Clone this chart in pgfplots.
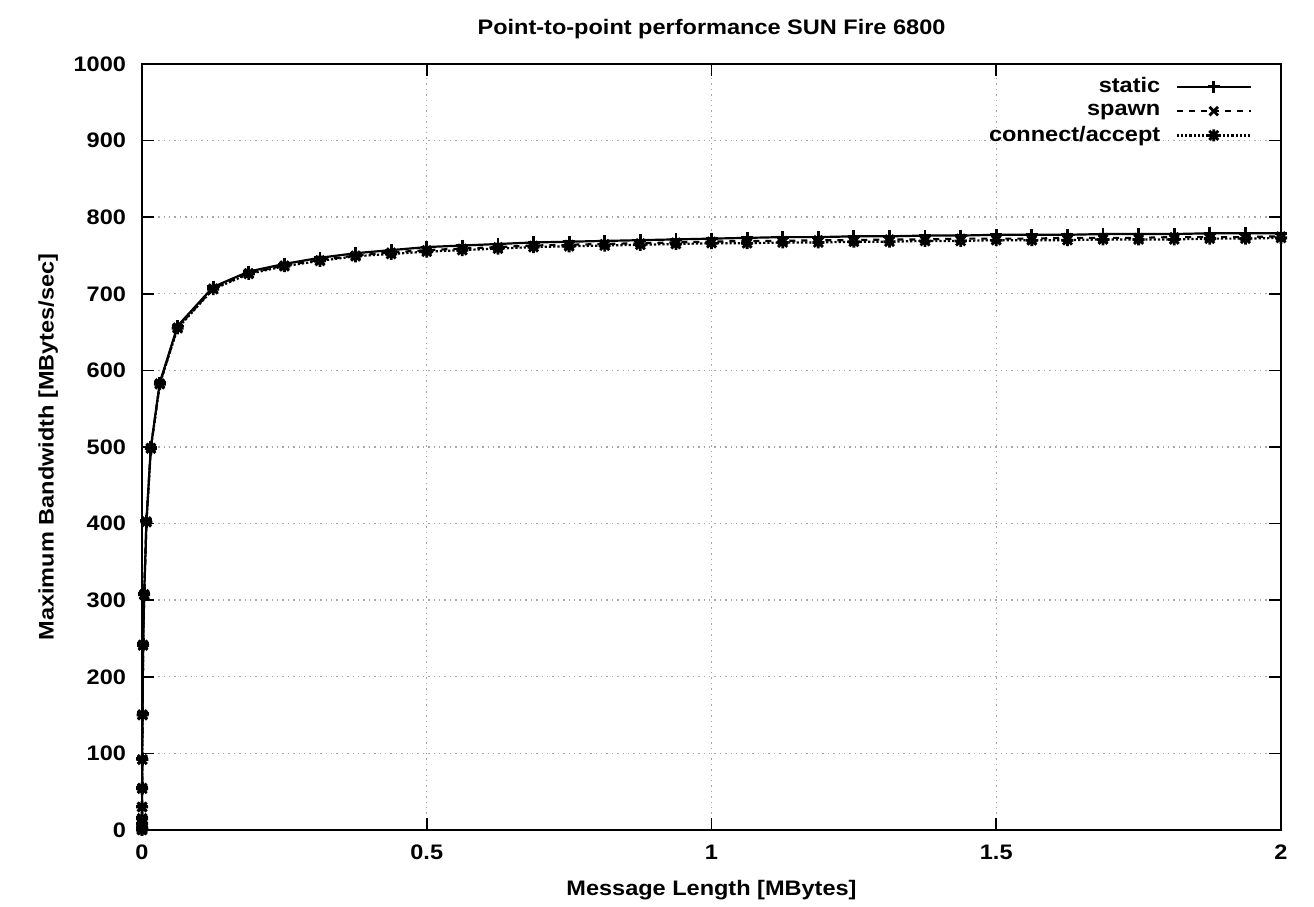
\documentclass[border=0pt]{standalone}
\usepackage{fontspec}
\setmainfont{Liberation Sans}[FakeStretch=1.12]
\usepackage{pgfplots}
\pgfplotsset{compat=1.18}
\pgfdeclareplotmark{gpstar}{%
  \pgfpathmoveto{\pgfqpoint{-\pgfplotmarksize}{0pt}}%
  \pgfpathlineto{\pgfqpoint{\pgfplotmarksize}{0pt}}%
  \pgfpathmoveto{\pgfqpoint{0pt}{-\pgfplotmarksize}}%
  \pgfpathlineto{\pgfqpoint{0pt}{\pgfplotmarksize}}%
  \pgfpathmoveto{\pgfqpoint{-0.75\pgfplotmarksize}{-0.75\pgfplotmarksize}}%
  \pgfpathlineto{\pgfqpoint{0.75\pgfplotmarksize}{0.75\pgfplotmarksize}}%
  \pgfpathmoveto{\pgfqpoint{-0.75\pgfplotmarksize}{0.75\pgfplotmarksize}}%
  \pgfpathlineto{\pgfqpoint{0.75\pgfplotmarksize}{-0.75\pgfplotmarksize}}%
  \pgfusepathqstroke}
\pgfplotstableread{
x y
0.00000095 0
0.0000019 0.5
0.0000038 1
0.0000076 2
0.0000153 4
0.0000305 8
0.000061 16
0.000122 31
0.000244 55
0.000488 93
0.000977 152
0.00195 243
0.0039 309
0.0078 404
0.0156 500
0.03125 584
0.0625 658
0.125 709
0.1875 729
0.25 739
0.3125 747
0.375 753
0.4375 757
0.5 761
0.5625 763
0.625 765
0.6875 767
0.75 768
0.8125 769
0.875 770
0.9375 771
1.0 772
1.0625 773
1.125 774
1.1875 774
1.25 775
1.3125 775
1.375 776
1.4375 776
1.5 777
1.5625 777
1.625 777
1.6875 778
1.75 778
1.8125 778
1.875 779
1.9375 779
2.0 779
}\staticdata
\pgfplotstableread{
x y
0.00000095 0
0.0000019 0.5
0.0000038 1
0.0000076 2
0.0000153 4
0.0000305 8
0.000061 15
0.000122 30
0.000244 55
0.000488 92
0.000977 151
0.00195 242
0.0039 308
0.0078 403
0.0156 499
0.03125 583
0.0625 656
0.125 707
0.1875 727
0.25 737
0.3125 744
0.375 750
0.4375 754
0.5 757
0.5625 759
0.625 761
0.6875 763
0.75 764
0.8125 765
0.875 766
0.9375 767
1.0 768
1.0625 769
1.125 769
1.1875 770
1.25 770
1.3125 771
1.375 771
1.4375 772
1.5 772
1.5625 772
1.625 773
1.6875 773
1.75 773
1.8125 774
1.875 774
1.9375 774
2.0 775
}\spawndata
\pgfplotstableread{
x y
0.00000095 0
0.0000019 0.5
0.0000038 1
0.0000076 2
0.0000153 4
0.0000305 8
0.000061 15
0.000122 30
0.000244 54
0.000488 92
0.000977 150
0.00195 241
0.0039 307
0.0078 402
0.0156 498
0.03125 582
0.0625 655
0.125 706
0.1875 726
0.25 736
0.3125 743
0.375 749
0.4375 752
0.5 755
0.5625 757
0.625 759
0.6875 761
0.75 762
0.8125 763
0.875 764
0.9375 765
1.0 766
1.0625 766
1.125 767
1.1875 767
1.25 768
1.3125 768
1.375 769
1.4375 769
1.5 770
1.5625 770
1.625 770
1.6875 771
1.75 771
1.8125 771
1.875 772
1.9375 772
2.0 773
}\connectdata
\begin{document}
\begin{tikzpicture}
\begin{axis}[
  scale only axis,
  width=569.5pt, height=383pt,
  xmin=0, xmax=2, ymin=0, ymax=1000,
  xtick={0,0.5,...,2}, ytick={0,100,...,1000},
  xticklabels={0,0.5,1,1.5,2},
  /pgf/number format/1000 sep={},
  /pgf/number format/assume math mode=true,
  tick label style={font=\fontsize{10.5}{12}\selectfont\bfseries},
  xticklabel style={yshift=-4pt},
  yticklabel style={xshift=-4.5pt},
  label style={font=\fontsize{10.5}{12}\selectfont\bfseries},
  xlabel style={yshift=-3.5pt},
  ylabel style={yshift=1pt},
  title style={font=\fontsize{10.5}{12}\selectfont\bfseries, yshift=3pt},
  title={Point-to-point performance SUN Fire 6800},
  xlabel={Message Length [MBytes]},
  ylabel={Maximum Bandwidth [MBytes/sec]},
  axis line style={line width=1.4pt},
  every tick/.style={black, line width=0.8pt},
  major tick length=6pt,
  tick align=inside,
  xtick pos=both, ytick pos=both,
  grid=major,
  major grid style={gray!70, line width=0.7pt, dotted},
  legend style={draw=none, fill=none, at={(0.98,0.993)}, anchor=north east,
    font=\fontsize{10.5}{12}\selectfont\bfseries, row sep=0pt,
    legend cell align=right},
  legend plot pos=right,
  legend image code/.code={\path (0cm,0cm); \draw[mark repeat=2,mark phase=2] plot coordinates {(0.2cm,0cm) (0.85cm,0cm) (1.5cm,0cm)};},
  every axis plot/.append style={black, line width=1.1pt, mark size=3pt, mark options={solid, line width=1.4pt}},
]
\addplot[solid, mark=+] table {\staticdata};
\addlegendentry{static}
\addplot[dashed, mark=x] table {\spawndata};
\addlegendentry{spawn}
\addplot[densely dotted, mark=gpstar] table {\connectdata};
\addlegendentry{connect/accept}
\end{axis}
\path ([shift={(-71pt,-38pt)}]current axis.south west) rectangle ([shift={(16.5pt,32pt)}]current axis.north east);
\end{tikzpicture}
\end{document}
